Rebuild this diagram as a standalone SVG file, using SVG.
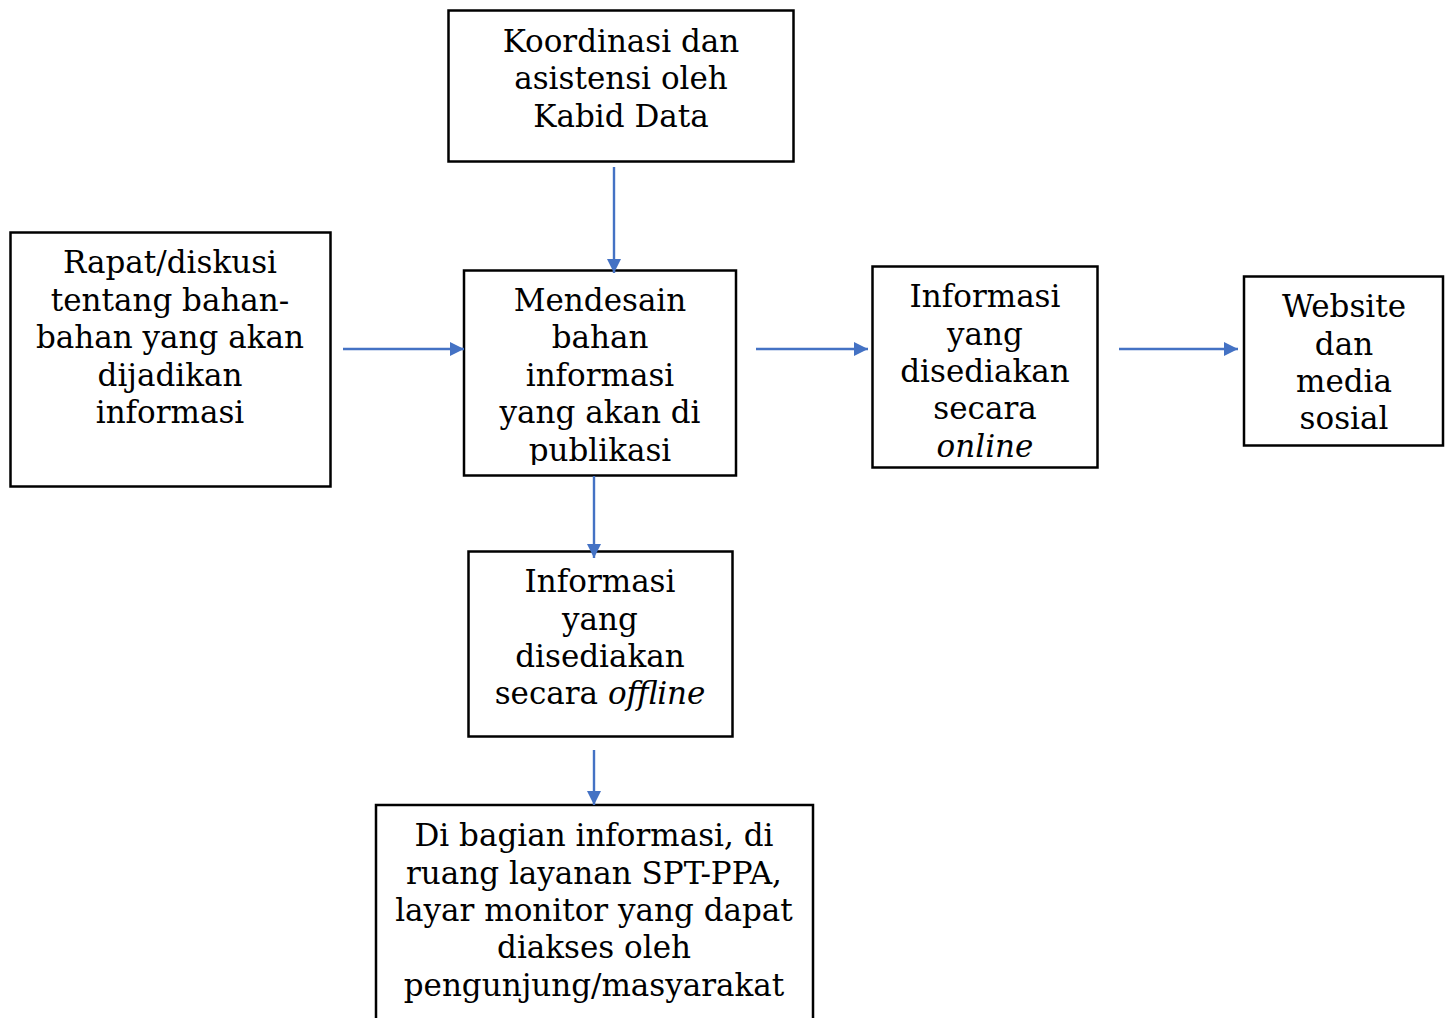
<svg xmlns="http://www.w3.org/2000/svg" width="1448" height="1018" viewBox="0 0 1448 1018">
<style>
.box{fill:#fff;stroke:#000;stroke-width:2.5}
text{font-family:"DejaVu Serif","Liberation Serif",serif;font-size:31px;fill:#000;text-anchor:middle}
.it{font-style:italic}
.conn{stroke:#4472C4;stroke-width:2.4;fill:none;marker-end:url(#ah)}
</style>
<defs>
<marker id="ah" viewBox="0 0 12 12" refX="12" refY="6" markerWidth="14" markerHeight="14" markerUnits="userSpaceOnUse" orient="auto">
<path d="M0,0 L12,6 L0,12 z" fill="#4472C4"/>
</marker>
<clipPath id="clip3"><rect x="464" y="270" width="272" height="195"/></clipPath>
</defs>
<g id="n1">
<rect class="box" x="448.5" y="10.5" width="345" height="151"/>
<text x="621" y="52">Koordinasi dan</text>
<text x="621" y="89">asistensi oleh</text>
<text x="621" y="127">Kabid Data</text>
</g>
<g id="n2">
<rect class="box" x="10.5" y="232.5" width="320" height="254"/>
<text x="170" y="273">Rapat/diskusi</text>
<text x="170" y="311">tentang bahan-</text>
<text x="170" y="348">bahan yang akan</text>
<text x="170" y="386">dijadikan</text>
<text x="170" y="423">informasi</text>
</g>
<g id="n3">
<rect class="box" x="464" y="270.5" width="272" height="205"/>
<g clip-path="url(#clip3)">
<text x="600" y="311">Mendesain</text>
<text x="600" y="348">bahan</text>
<text x="600" y="386">informasi</text>
<text x="600" y="423">yang akan di</text>
<text x="600" y="461">publikasi</text>
</g>
</g>
<g id="n4">
<rect class="box" x="872.5" y="266.5" width="225" height="201"/>
<text x="985" y="307">Informasi</text>
<text x="985" y="345">yang</text>
<text x="985" y="382">disediakan</text>
<text x="985" y="419">secara</text>
<text x="985" y="457" class="it">online</text>
</g>
<g id="n5">
<rect class="box" x="1244" y="276.5" width="199" height="169"/>
<text x="1344" y="317">Website</text>
<text x="1344" y="355">dan</text>
<text x="1344" y="392">media</text>
<text x="1344" y="429">sosial</text>
</g>
<g id="n6">
<rect class="box" x="468.5" y="551.5" width="264" height="185"/>
<text x="600" y="592">Informasi</text>
<text x="600" y="630">yang</text>
<text x="600" y="667">disediakan</text>
<text x="600" y="704">secara <tspan class="it">offline</tspan></text>
</g>
<g id="n7">
<rect class="box" x="376" y="805" width="437" height="240"/>
<text x="594" y="846">Di bagian informasi, di</text>
<text x="594" y="884">ruang layanan SPT-PPA,</text>
<text x="594" y="921">layar monitor yang dapat</text>
<text x="594" y="958">diakses oleh</text>
<text x="594" y="996">pengunjung/masyarakat</text>
</g>
<g id="connectors">
<line class="conn" x1="614" y1="167" x2="614" y2="273"/>
<line class="conn" x1="343" y1="349" x2="464" y2="349"/>
<line class="conn" x1="756" y1="349" x2="868" y2="349"/>
<line class="conn" x1="1119" y1="349" x2="1238" y2="349"/>
<line class="conn" x1="594" y1="476" x2="594" y2="558"/>
<line class="conn" x1="594" y1="750" x2="594" y2="805"/>
</g>
</svg>
